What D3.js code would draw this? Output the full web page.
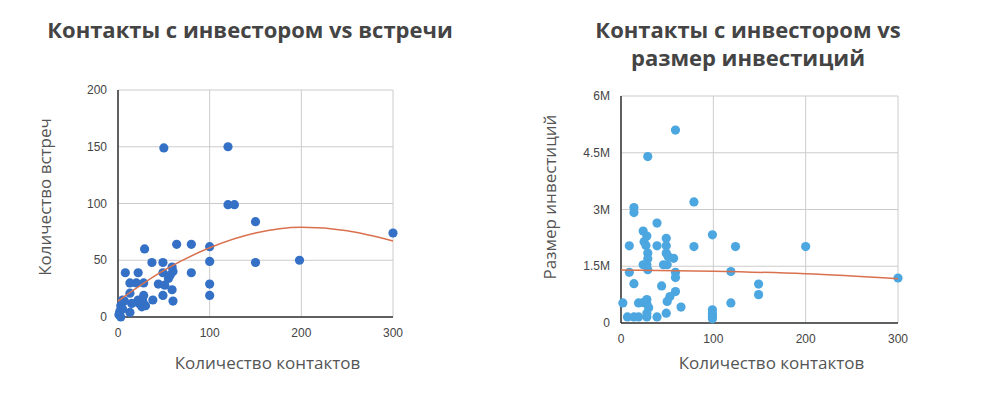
<!DOCTYPE html>
<html>
<head>
<meta charset="utf-8">
<script src="https://cdn.jsdelivr.net/npm/d3@7"></script>
<style>
  body { margin: 0; background: #fff; }
  svg { display: block; }
  .title { font-family: "Open Sans", sans-serif; font-weight: 700; font-size: 22px; fill: #444; }
  .axis-title { font-family: "Open Sans", sans-serif; font-size: 17px; fill: #555; }
  .tick-label { font-family: "Liberation Sans", Arial, sans-serif; font-size: 12px; fill: #444; }
</style>
</head>
<body>
<svg id="chart" width="1000" height="394"></svg>
<script>
// shared x ticks
var xTicks = [0, 100, 200, 300];

// left chart: contacts vs meetings
var meetTicks = [0, 50, 100, 150, 200];
var meetPoints = [
  [50,149],[120,150],[120,99],[127,99],[150,84],[300,74],[198,50],[150,48],
  [100,62],[100,49],[100,29],[100,19],[80,64],[80,39],[64,64],[29,60],
  [37,48],[49,48],[59,44],[60,40],[49,39],[55,34],[57,37],[44,29],[51,28],
  [59,24],[49,19],[60,14],[38,15],[8,39],[22,39],[13,30],[20,30],[28,30],
  [13,21],[28,19],[27,14],[23,12],[26,9],[30,10],[22,15],[15,12],[5,15],
  [7,14],[3,10],[2,5],[1,2],[13,4],[3,0],[5,7]
];
var meetTrend = [[0,14],[50,41],[100,61],[150,74],[200,79],[250,76],[300,67]];

// right chart: contacts vs investment size
var invTicks = [0, 1500000, 3000000, 4500000, 6000000];
var invPoints = [
  [59,5100000],[29,4400000],[79,3200000],[14,3050000],[14,2920000],[39,2640000],
  [24,2430000],[28,2300000],[99,2330000],[9,2040000],[39,2040000],[49,2240000],
  [49,2040000],[79,2020000],[124,2020000],[200,2020000],[25,2150000],[27,2050000],
  [29,1850000],[29,1700000],[28,1540000],[24,1540000],[49,1850000],[51,1760000],
  [57,1710000],[46,1540000],[50,1540000],[29,1410000],[9,1340000],[59,1340000],
  [59,1200000],[119,1360000],[300,1190000],[14,1040000],[149,1030000],[149,750000],
  [44,980000],[59,830000],[53,700000],[50,570000],[2,530000],[19,530000],
  [24,540000],[28,620000],[28,510000],[30,400000],[119,530000],[65,420000],
  [49,260000],[99,350000],[99,260000],[99,180000],[99,110000],[7,160000],
  [14,160000],[19,160000],[28,160000],[39,160000],[28,260000]
];
var invTrend = [[0,1400000],[100,1370000],[200,1300000],[300,1170000]];

var svg = d3.select("#chart");

function fmtM(d) {
  return d === 0 ? "0" : (d / 1e6) + "M";
}

function drawChart(cfg) {
  var x = d3.scaleLinear().domain([0, 300]).range([cfg.left, cfg.right]);
  var y = d3.scaleLinear().domain([0, cfg.yMax]).range([cfg.bottom, cfg.top]);
  var g = svg.append("g");

  // grid
  g.append("g").selectAll("line")
    .data(cfg.yTicks).enter().append("line")
    .attr("x1", cfg.left).attr("x2", cfg.right)
    .attr("y1", d => y(d)).attr("y2", d => y(d))
    .style("stroke", "#ccc").style("stroke-width", 1);
  g.append("g").selectAll("line")
    .data(xTicks).enter().append("line")
    .attr("x1", d => x(d)).attr("x2", d => x(d))
    .attr("y1", cfg.top).attr("y2", cfg.bottom)
    .style("stroke", "#ccc").style("stroke-width", 1);

  // axis lines
  g.append("line")
    .attr("x1", cfg.left).attr("x2", cfg.left)
    .attr("y1", cfg.top).attr("y2", cfg.bottom)
    .style("stroke", "#333").style("stroke-width", 1.5);
  g.append("line")
    .attr("x1", cfg.left).attr("x2", cfg.right)
    .attr("y1", cfg.bottom).attr("y2", cfg.bottom)
    .style("stroke", "#333").style("stroke-width", 1.5);

  // tick labels
  g.append("g").selectAll("text")
    .data(cfg.yTicks).enter().append("text")
    .attr("class", "tick-label")
    .attr("x", cfg.left - 11)
    .attr("y", d => y(d))
    .attr("dy", "0.35em")
    .attr("text-anchor", "end")
    .text(cfg.fmt);
  g.append("g").selectAll("text")
    .data(xTicks).enter().append("text")
    .attr("class", "tick-label")
    .attr("x", d => x(d))
    .attr("y", cfg.bottom + 20)
    .attr("text-anchor", "middle")
    .text(d => d);

  // points
  g.append("g").selectAll("circle")
    .data(cfg.points).enter().append("circle")
    .attr("cx", d => x(d[0]))
    .attr("cy", d => y(d[1]))
    .attr("r", 4.6)
    .style("fill", cfg.color);

  // trend line
  var line = d3.line().x(d => x(d[0])).y(d => y(d[1])).curve(d3.curveMonotoneX);
  g.append("path")
    .datum(cfg.trend)
    .attr("d", line)
    .style("fill", "none")
    .style("stroke", "#d9714e")
    .style("stroke-width", 1.5);

  // axis titles
  g.append("text")
    .attr("class", "axis-title")
    .attr("x", (cfg.left + cfg.right) / 2 + 12)
    .attr("y", 369)
    .attr("text-anchor", "middle")
    .text("Количество контактов");
  g.append("text")
    .attr("class", "axis-title")
    .attr("transform", "translate(" + cfg.yTitleX + ",197) rotate(-90)")
    .attr("text-anchor", "middle")
    .text(cfg.yTitle);

  // title
  var t = g.append("text")
    .attr("class", "title")
    .attr("x", cfg.titleX)
    .attr("text-anchor", "middle");
  cfg.title.forEach(function(s, i) {
    t.append("tspan").attr("x", cfg.titleX).attr("y", 38 + i * 28).text(s);
  });
}

drawChart({
  left: 118, right: 393, top: 90, bottom: 317,
  yMax: 200, yTicks: meetTicks, fmt: d => d,
  points: meetPoints, trend: meetTrend, color: "#3470c6",
  yTitle: "Количество встреч", yTitleX: 51,
  title: ["Контакты с инвестором vs встречи"], titleX: 250
});

drawChart({
  left: 621, right: 898, top: 96, bottom: 323,
  yMax: 6000000, yTicks: invTicks, fmt: fmtM,
  points: invPoints, trend: invTrend, color: "#4ca6e0",
  yTitle: "Размер инвестиций", yTitleX: 556,
  title: ["Контакты с инвестором vs", "размер инвестиций"], titleX: 748
});
</script>
</body>
</html>
